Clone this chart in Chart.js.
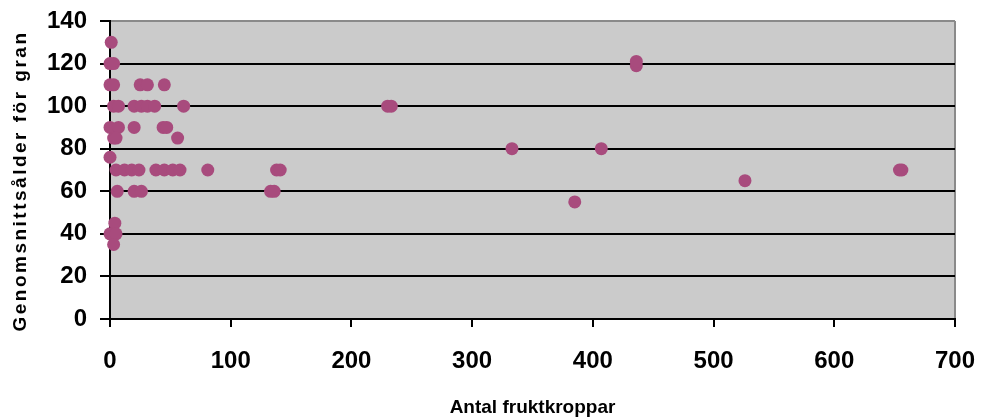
<!DOCTYPE html>
<html>
<head>
<meta charset="utf-8">
<script src="https://cdn.jsdelivr.net/npm/chart.js@4/dist/chart.umd.min.js"></script>
<style>
  html, body { margin: 0; padding: 0; background: #ffffff; }
  #wrap { width: 982px; height: 417px; position: relative; }
</style>
</head>
<body>
<div id="wrap"><canvas id="c" width="982" height="417"></canvas></div>
<script>
// ---- data ----
const fruitBodies = [
  1,
  0, 3,
  0, 3, 25, 31, 45,
  3, 7, 20, 26, 31, 37, 61,
  0, 7, 20, 44, 47,
  3, 5, 56,
  0,
  5, 12, 18, 24, 38, 45, 52, 58, 81,
  6, 20, 26,
  4, 0, 5, 3,
  133, 136, 138, 141, 230, 233, 333, 385, 407, 436, 436, 526, 654, 656
];
const avgAge = [
  130,
  120, 120,
  110, 110, 110, 110, 110,
  100, 100, 100, 100, 100, 100, 100,
  90, 90, 90, 90, 90,
  85, 85, 85,
  76,
  70, 70, 70, 70, 70, 70, 70, 70, 70,
  60, 60, 60,
  45, 40, 40, 35,
  60, 60, 70, 70, 100, 100, 80, 55, 80, 119, 121, 65, 70, 70
];
const xTickValues = [0, 100, 200, 300, 400, 500, 600, 700];
const yTickValues = [0, 20, 40, 60, 80, 100, 120, 140];
const xTitle = 'Antal fruktkroppar';
const yTitle = 'Genomsnittsålder för gran';

const points = fruitBodies.map((x, i) => ({ x: x, y: avgAge[i] }));

const plotBg = {
  id: 'plotBg',
  beforeDraw(chart) {
    const a = chart.chartArea, c = chart.ctx;
    c.save();
    c.fillStyle = '#cbcbcb';
    c.fillRect(a.left, a.top, a.right - a.left, a.bottom - a.top);
    c.restore();
  }
};

const FONT = "'Liberation Sans', Arial, sans-serif";

const chart = new Chart(document.getElementById('c'), {
  type: 'scatter',
  data: {
    datasets: [{
      data: points,
      backgroundColor: '#a84b7d',
      borderWidth: 0,
      pointRadius: 6.5,
      pointHoverRadius: 6.5,
      clip: false
    }]
  },
  options: {
    responsive: false,
    animation: false,
    events: [],
    layout: { padding: { top: 21, right: 27, left: 0, bottom: 0 } },
    plugins: { legend: { display: false }, tooltip: { enabled: false } },
    scales: {
      x: {
        type: 'linear',
        min: xTickValues[0],
        max: xTickValues[xTickValues.length - 1],
        afterFit(s) { s.height = 98; s.paddingLeft = 0; s.paddingRight = 0; },
        afterBuildTicks(s) { s.ticks = xTickValues.map(v => ({ value: v })); },
        grid: {
          color: (ctx) => (ctx.tick && ctx.tick.value === 700) ? '#8a8a8a' : 'rgba(0,0,0,0)',
          lineWidth: 2,
          tickColor: '#000000',
          tickLength: 8,
          tickWidth: 2
        },
        border: { color: '#000000', width: 2 },
        ticks: {
          color: '#000000',
          padding: 20,
          maxRotation: 0,
          font: { family: FONT, size: 24, weight: 'bold' }
        },
        title: {
          display: true,
          text: xTitle,
          color: '#000000',
          padding: { top: 0, bottom: 0 },
          font: { family: FONT, size: 19, weight: 'bold', lineHeight: 1 }
        }
      },
      y: {
        type: 'linear',
        min: yTickValues[0],
        max: yTickValues[yTickValues.length - 1],
        afterFit(s) { s.width = 110; s.paddingTop = 0; s.paddingBottom = 0; },
        afterBuildTicks(s) { s.ticks = yTickValues.map(v => ({ value: v })); },
        grid: {
          color: (ctx) => (ctx.tick && ctx.tick.value === 140) ? '#8a8a8a' : '#000000',
          lineWidth: 2,
          tickColor: '#000000',
          tickLength: 10,
          tickWidth: 2
        },
        border: { color: '#000000', width: 2 },
        ticks: {
          color: '#000000',
          padding: 13,
          font: { family: FONT, size: 24, weight: 'bold' }
        },
        title: {
          display: true,
          text: yTitle,
          color: '#000000',
          padding: { top: 11, bottom: 0 },
          font: { family: FONT, size: 19, weight: 'bold', lineHeight: 1 }
        }
      }
    }
  },
  plugins: [plotBg]
});

// Reference y-title is letter-spaced and centred a little below the plot middle
const yScale = chart.scales.y;
const origDrawTitle = yScale.drawTitle.bind(yScale);
yScale.drawTitle = function () {
  const c = this.ctx;
  c.save();
  try { c.letterSpacing = '2.5px'; } catch (e) {}
  c.translate(0, 11);
  origDrawTitle();
  c.restore();
};
chart.draw();
</script>
</body>
</html>
